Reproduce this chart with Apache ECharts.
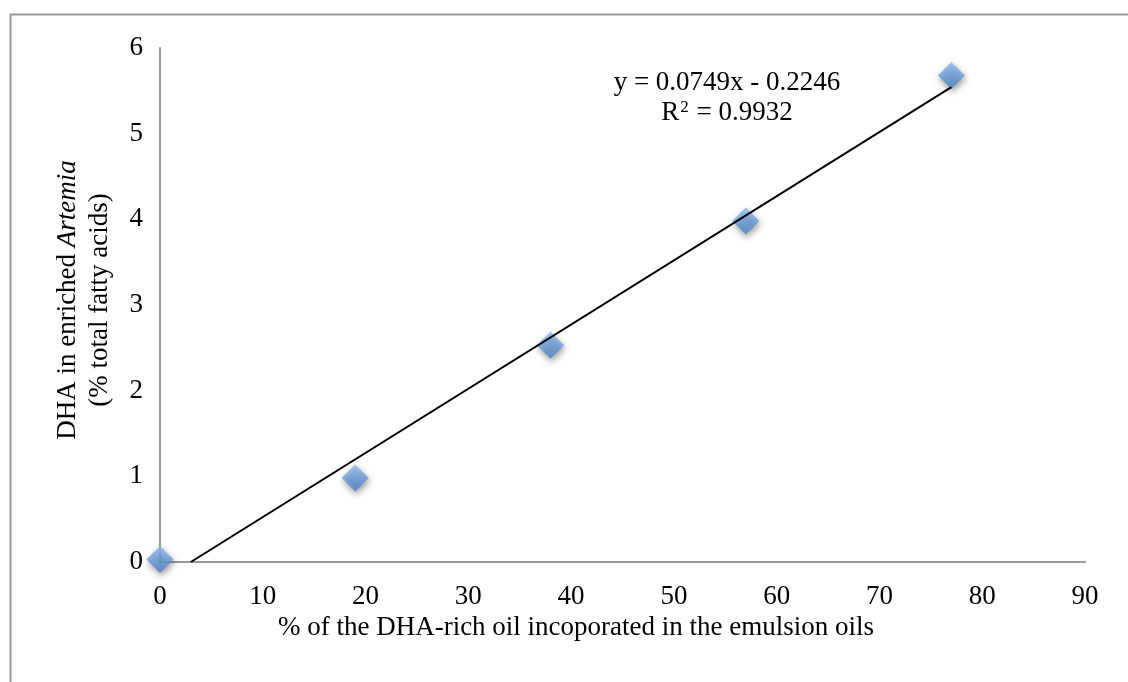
<!DOCTYPE html>
<html>
<head>
<meta charset="utf-8">
<script src="https://cdn.jsdelivr.net/npm/echarts@6/dist/echarts.min.js"></script>
<style>html,body{margin:0;padding:0;background:#fff}#c{width:1128px;height:682px}</style>
</head>
<body>
<div id="c"></div>
<script>
var xValues = [0, 19, 38, 57, 77];
var yValues = [0.03, 0.98, 2.53, 3.98, 5.68];
var trendX = [3.0, 77];
var trendY = [0.0001, 5.543];
var xTicks = [0, 10, 20, 30, 40, 50, 60, 70, 80, 90];
var yTicks = [0, 1, 2, 3, 4, 5, 6];
var equationText = 'y = 0.0749x - 0.2246';
var r2Text = '0.9932';
var xTitle = '% of the DHA-rich oil incoporated in the emulsion oils';

var chart = echarts.init(document.getElementById('c'));
var serif = 'Liberation Serif';
var points = xValues.map(function (x, i) { return [x, yValues[i]]; });
var trend = trendX.map(function (x, i) { return [x, trendY[i]]; });

chart.setOption({
  animation: false,
  backgroundColor: '#fff',
  grid: { left: 160, right: 43, top: 48, bottom: 120 },
  xAxis: {
    type: 'value', min: 0, max: 90, interval: 10,
    axisLine: { show: true, onZero: false, lineStyle: { color: '#999', width: 2 } },
    axisTick: { show: false },
    splitLine: { show: false },
    axisLabel: { color: '#000', fontFamily: serif, fontSize: 27, margin: 21 }
  },
  yAxis: {
    type: 'value', min: 0, max: 6, interval: 1,
    axisLine: { show: true, lineStyle: { color: '#999', width: 2 } },
    axisTick: { show: false },
    splitLine: { show: false },
    axisLabel: { color: '#000', fontFamily: serif, fontSize: 27, margin: 17 }
  },
  graphic: [
    { type: 'rect', left: 8, top: 12, silent: true,
      shape: { x: 0, y: 0, width: 1130, height: 680 },
      style: { fill: 'none', stroke: '#999', lineWidth: 2 } },
    { type: 'text', x: 576, y: 628, silent: true,
      style: { text: xTitle, font: '27px "Liberation Serif"', fill: '#000', align: 'center', verticalAlign: 'middle' } },
    { type: 'text', x: 68, y: 300, rotation: Math.PI / 2, silent: true,
      style: {
        text: '{n|DHA in enriched }{i|Artemia}',
        align: 'center', verticalAlign: 'middle',
        rich: {
          n: { fontFamily: serif, fontSize: 27, fill: '#000' },
          i: { fontFamily: serif, fontSize: 27, fontStyle: 'italic', fill: '#000' }
        }
      } },
    { type: 'text', x: 100, y: 300, rotation: Math.PI / 2, silent: true,
      style: { text: '(% total fatty acids)', font: '27px "Liberation Serif"', fill: '#000', align: 'center', verticalAlign: 'middle' } },
    { type: 'text', x: 727, y: 83, silent: true,
      style: { text: equationText, font: '27px "Liberation Serif"', fill: '#000', align: 'center', verticalAlign: 'middle' } },
    { type: 'text', x: 727, y: 113, silent: true,
      style: {
        text: '{n|R}{s|2}{n| = ' + r2Text + '}',
        align: 'center', verticalAlign: 'middle',
        rich: {
          n: { fontFamily: serif, fontSize: 27, fill: '#000', verticalAlign: 'bottom' },
          s: { fontFamily: serif, fontSize: 17, fill: '#000', verticalAlign: 'top', padding: [0, 1, 10, 1] }
        }
      } }
  ],
  series: [
    {
      type: 'line', data: trend, symbol: 'none', silent: true, z: 3,
      lineStyle: { color: '#000', width: 2 }
    },
    {
      type: 'scatter', data: points, symbol: 'diamond', symbolSize: [27, 27], z: 2,
      itemStyle: {
        color: new echarts.graphic.LinearGradient(0, 0, 0, 1, [
          { offset: 0, color: '#8fb9ef' },
          { offset: 1, color: '#4a82c8' }
        ]),
        shadowColor: 'rgba(0,0,0,0.5)', shadowBlur: 7, shadowOffsetX: 1, shadowOffsetY: 3
      }
    }
  ]
});
</script>
</body>
</html>
